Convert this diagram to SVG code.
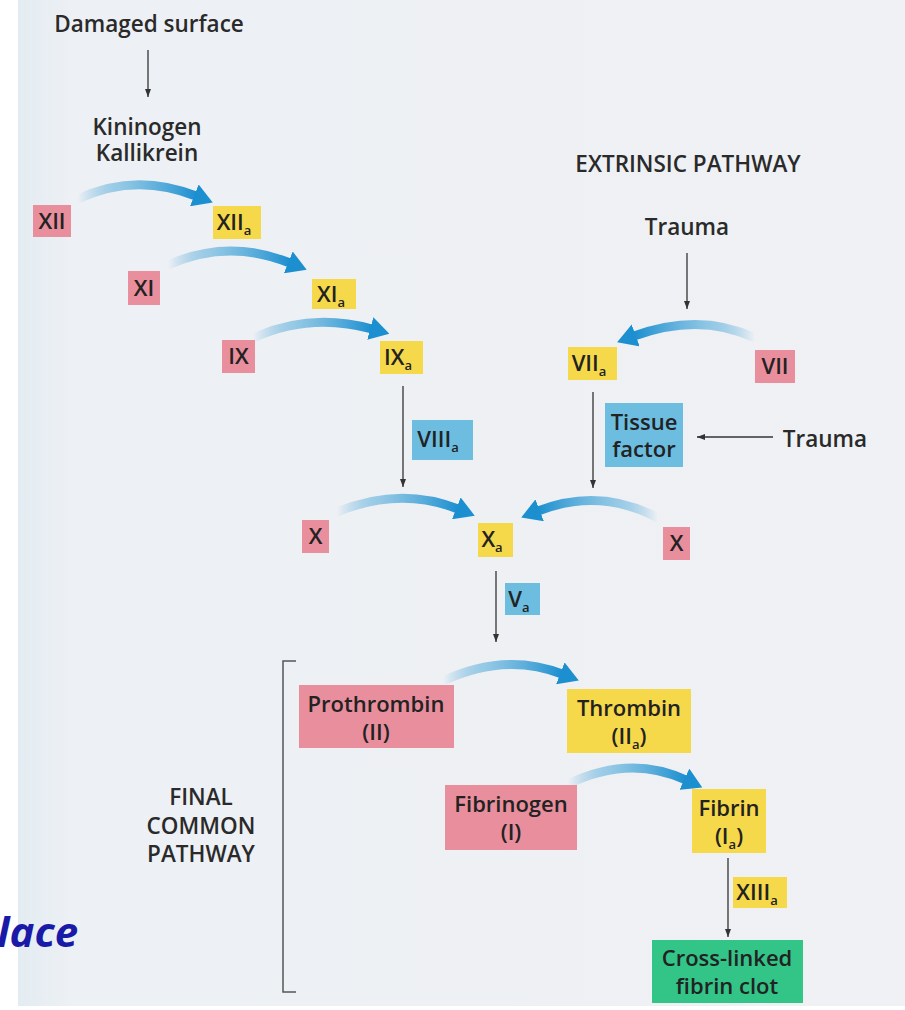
<svg xmlns="http://www.w3.org/2000/svg" width="905" height="1010" viewBox="0 0 905 1010">
<defs>
<linearGradient id="bgL" x1="0" y1="0" x2="1" y2="0">
<stop offset="0" stop-color="#e3ecf2"/><stop offset="0.06" stop-color="#edf0f4"/><stop offset="1" stop-color="#eff1f4"/>
</linearGradient>
<linearGradient id="gR" x1="0" y1="0" x2="1" y2="0">
<stop offset="0" stop-color="#1c8fd0" stop-opacity="0"/><stop offset="0.35" stop-color="#6fb8df" stop-opacity="0.7"/><stop offset="1" stop-color="#1c8fd0"/>
</linearGradient>
<linearGradient id="gL" x1="1" y1="0" x2="0" y2="0">
<stop offset="0" stop-color="#1c8fd0" stop-opacity="0"/><stop offset="0.35" stop-color="#6fb8df" stop-opacity="0.7"/><stop offset="1" stop-color="#1c8fd0"/>
</linearGradient>
<marker id="bh" viewBox="0 0 2.2 2.6" refX="0.2" refY="1.3" markerWidth="2.2" markerHeight="2.6" orient="auto">
<path d="M0,0 L2.2,1.3 L0,2.6 z" fill="#1c8fd0"/>
</marker>
<marker id="th" viewBox="0 0 8 6" refX="8" refY="3" markerWidth="8" markerHeight="6" markerUnits="userSpaceOnUse" orient="auto">
<path d="M0,0 L8,3 L0,6 z" fill="#333"/>
</marker>
</defs>
<style>
text{font-family:"Open Sans","Liberation Sans",sans-serif;fill:#2a2a2a;}
.lbl{font-size:22.5px;font-weight:600;text-anchor:middle;}
.bx{font-size:22px;font-weight:600;text-anchor:middle;fill:#222;}
.pink{fill:#e98e9d;}
.yel{fill:#f6d94b;}
.blue{fill:#6cbde0;}
.green{fill:#33c488;}
.ca{fill:none;stroke-width:9;stroke-linecap:round;marker-end:url(#bh);}
.ta{fill:none;stroke:#333;stroke-width:1.3;marker-end:url(#th);}
.br{fill:none;stroke:#555;stroke-width:1.5;}
</style>
<rect x="0" y="0" width="905" height="1010" fill="#ffffff"/>
<rect x="18" y="0" width="887" height="1006" fill="url(#bgL)"/>

<g id="labels">
<text class="lbl" x="149" y="32">Damaged surface</text>
<text class="lbl" x="147" y="135">Kininogen</text>
<text class="lbl" x="147" y="161">Kallikrein</text>
<text class="lbl" x="688" y="172">EXTRINSIC PATHWAY</text>
<text class="lbl" x="687" y="235">Trauma</text>
<text class="lbl" x="825" y="447">Trauma</text>
<text class="lbl" x="201" y="805">FINAL</text>
<text class="lbl" x="201" y="834">COMMON</text>
<text class="lbl" x="201" y="862">PATHWAY</text>
<text x="-3" y="947" style="font-family:'Open Sans','Liberation Sans',sans-serif;font-size:42px;font-weight:700;font-style:italic;fill:#1a1aa8;">lace</text>
</g>

<g id="connectors">
<path class="ta" d="M148,50 L148,97"/>
<path class="ta" d="M687,253 L687,309"/>
<path class="ta" d="M773,437 L697,437"/>
<path class="ta" d="M403,386 L403,487"/>
<path class="ta" d="M593,392 L593,488"/>
<path class="ta" d="M496,571 L496,642"/>
<path class="ta" d="M728,858 L728,937"/>
<path class="ca" stroke="url(#gR)" d="M78,199 Q135,172 196,196"/>
<path class="ca" stroke="url(#gR)" d="M168,265 Q228,238 290,263"/>
<path class="ca" stroke="url(#gR)" d="M253,338 Q310,312 372,329"/>
<path class="ca" stroke="url(#gL)" d="M755,338 Q700,312 634,336"/>
<path class="ca" stroke="url(#gR)" d="M337,512 Q400,486 458,509"/>
<path class="ca" stroke="url(#gL)" d="M658,518 Q600,487 538,511"/>
<path class="ca" stroke="url(#gR)" d="M443,681 Q505,652 562,674"/>
<path class="ca" stroke="url(#gR)" d="M568,784 Q630,754 686,780"/>
<path class="br" d="M296,661 L283,661 L283,992 L296,992"/>
</g>

<g id="n-XII"><rect class="pink" x="33" y="205" width="38" height="32"/><text class="bx" x="52" y="229">XII</text></g>
<g id="n-XIIa"><rect class="yel" x="213" y="206" width="48" height="33"/><text class="bx" x="234" y="230">XII<tspan font-size="13" dy="5">a</tspan></text></g>
<g id="n-XI"><rect class="pink" x="128" y="271" width="32" height="34"/><text class="bx" x="144" y="296">XI</text></g>
<g id="n-XIa"><rect class="yel" x="312" y="279" width="44" height="30"/><text class="bx" x="331" y="302">XI<tspan font-size="13" dy="5">a</tspan></text></g>
<g id="n-IX"><rect class="pink" x="222" y="340" width="33" height="33"/><text class="bx" x="238.5" y="364">IX</text></g>
<g id="n-IXa"><rect class="yel" x="380" y="341" width="43" height="33"/><text class="bx" x="398" y="365">IX<tspan font-size="13" dy="5">a</tspan></text></g>
<g id="n-VIIIa"><rect class="blue" x="412" y="420" width="61" height="40"/><text class="bx" x="438" y="447">VIII<tspan font-size="13" dy="5">a</tspan></text></g>
<g id="n-VIIa"><rect class="yel" x="568" y="347" width="49" height="33"/><text class="bx" x="589" y="371">VII<tspan font-size="13" dy="5">a</tspan></text></g>
<g id="n-VII"><rect class="pink" x="755" y="350" width="40" height="33"/><text class="bx" x="775" y="374">VII</text></g>
<g id="n-TF"><rect class="blue" x="605" y="403" width="78" height="64"/><text class="bx" x="644" y="430">Tissue</text><text class="bx" x="644" y="457">factor</text></g>
<g id="n-X1"><rect class="pink" x="302" y="520" width="27" height="33"/><text class="bx" x="315.5" y="544">X</text></g>
<g id="n-Xa"><rect class="yel" x="478" y="523" width="35" height="34"/><text class="bx" x="492" y="547">X<tspan font-size="13" dy="5">a</tspan></text></g>
<g id="n-X2"><rect class="pink" x="663" y="527" width="27" height="33"/><text class="bx" x="676.5" y="551">X</text></g>
<g id="n-Va"><rect class="blue" x="505" y="583" width="35" height="32"/><text class="bx" x="519" y="607">V<tspan font-size="13" dy="5">a</tspan></text></g>
<g id="n-Prothrombin"><rect class="pink" x="299" y="685" width="155" height="63"/><text class="bx" x="376" y="712">Prothrombin</text><text class="bx" x="376" y="740">(II)</text></g>
<g id="n-Thrombin"><rect class="yel" x="567" y="689" width="124" height="64"/><text class="bx" x="629" y="716">Thrombin</text><text class="bx" x="629" y="744">(II<tspan font-size="13" dy="5">a</tspan><tspan dy="-5">)</tspan></text></g>
<g id="n-Fibrinogen"><rect class="pink" x="445" y="785" width="132" height="65"/><text class="bx" x="511" y="812">Fibrinogen</text><text class="bx" x="511" y="840">(I)</text></g>
<g id="n-Fibrin"><rect class="yel" x="692" y="789" width="74" height="64"/><text class="bx" x="729" y="816">Fibrin</text><text class="bx" x="729" y="844">(I<tspan font-size="13" dy="5">a</tspan><tspan dy="-5">)</tspan></text></g>
<g id="n-XIIIa"><rect class="yel" x="733" y="877" width="54" height="31"/><text class="bx" x="757" y="900">XIII<tspan font-size="13" dy="5">a</tspan></text></g>
<g id="n-Clot"><rect class="green" x="652" y="940" width="151" height="63"/><text class="bx" x="727" y="966">Cross-linked</text><text class="bx" x="727" y="994">fibrin clot</text></g>
</svg>
